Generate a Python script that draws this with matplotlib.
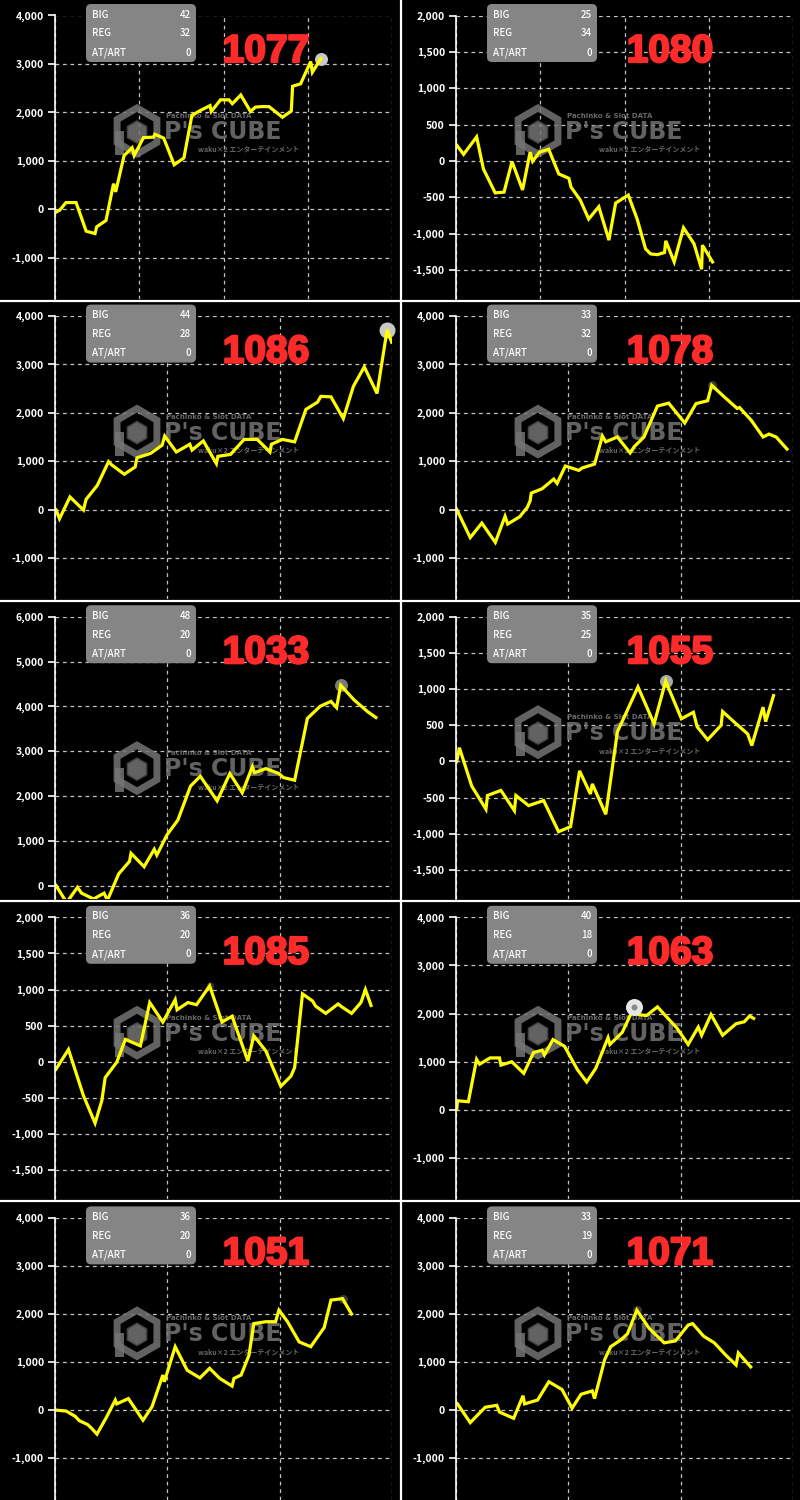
import numpy as np
import matplotlib
matplotlib.use("Agg")
import matplotlib.pyplot as plt
import matplotlib.patheffects as pe
from matplotlib.patches import FancyBboxPatch, RegularPolygon, Rectangle
from matplotlib.transforms import IdentityTransform
from matplotlib.ticker import FuncFormatter, MultipleLocator

# ---------------- data ----------------
machines = ["1077", "1080", "1086", "1078", "1033", "1055", "1085", "1063", "1051", "1071"]
big_counts = [42, 25, 44, 33, 48, 35, 36, 40, 36, 33]
reg_counts = [32, 34, 28, 32, 20, 25, 20, 18, 20, 19]
art_counts = [0, 0, 0, 0, 0, 0, 0, 0, 0, 0]

g_1077 = [0, 120, 260, 500, 740, 950, 990, 1210, 1390, 1440, 1640, 1830, 1880, 2100, 2340, 2370, 2580, 2830, 3060, 3250,
          3450, 3680, 3710, 3930, 4130, 4210, 4410, 4640, 4760, 4920, 5080, 5400, 5610, 5640, 5830, 6070, 6110, 6310]
d_1077 = [-70, -10, 140, 140, -450, -500, -360, -230, 530, 360, 1110, 1270, 1110, 1480, 1490, 1550, 1470, 920, 1060, 1940,
          2040, 2140, 2020, 2260, 2260, 2180, 2360, 2020, 2110, 2120, 2120, 1900, 2030, 2540, 2590, 3050, 2830, 3110]

g_1080 = [0, 180, 490, 650, 930, 1140, 1330, 1580, 1760, 1820, 1980, 2200, 2440, 2680, 2730, 2950, 3150, 3390, 3630, 3790,
          4090, 4300, 4500, 4620, 4780, 4950, 4980, 5180, 5400, 5650, 5830, 5850, 6090]
d_1080 = [230, 90, 330, -110, -440, -430, -10, -400, 120, -5, 120, 160, -180, -240, -360, -540, -800, -630, -1090, -580,
          -470, -800, -1210, -1280, -1290, -1260, -1100, -1390, -920, -1140, -1490, -1160, -1390]

g_1086 = [30, 120, 400, 760, 830, 1130, 1430, 1520, 1850, 2140, 2190, 2550, 2860, 2930, 3240, 3600, 3660, 3960, 4310, 4350,
          4690, 5050, 5400, 5740, 5780, 6070, 6400, 6700, 7010, 7100, 7370, 7700, 7970, 8260, 8600, 8870, 8990]
d_1086 = [-10, -190, 260, -10, 210, 500, 990, 920, 730, 880, 1070, 1160, 1330, 1520, 1190, 1350, 1230, 1420, 950, 1100,
          1140, 1450, 1450, 1190, 1350, 1450, 1400, 2070, 2220, 2340, 2330, 1880, 2550, 2950, 2400, 3720, 3460]

g_1078 = [20, 380, 690, 1050, 1310, 1380, 1700, 1900, 1980, 2010, 2300, 2610, 2700, 2920, 3280, 3370, 3700, 3910, 4000, 4310,
          4650, 4760, 5020, 5380, 5680, 6110, 6410, 6720, 6830, 7120, 7510, 7570, 7880, 8200, 8360, 8550, 8840]
d_1078 = [0, -580, -280, -680, -140, -300, -150, 40, 180, 340, 430, 630, 540, 900, 810, 860, 940, 1520, 1400, 1500,
          1170, 1300, 1500, 2140, 2200, 1790, 2190, 2250, 2570, 2360, 2090, 2110, 1850, 1500, 1560, 1500, 1250]

g_1033 = [30, 310, 600, 710, 1030, 1310, 1400, 1700, 1990, 2030, 2380, 2650, 2720, 2990, 3280, 3620, 3880, 4330, 4670, 5000,
          5270, 5330, 5630, 5980, 6100, 6400, 6740, 7080, 7370, 7520, 7630, 7990, 8350, 8570]
d_1033 = [0, -380, -40, -170, -300, -170, -330, 260, 540, 720, 420, 810, 680, 1130, 1460, 2220, 2440, 1890, 2500, 2070,
          2650, 2520, 2610, 2500, 2410, 2350, 3730, 4000, 4110, 3970, 4470, 4140, 3880, 3750]

g_1055 = [20, 90, 420, 800, 840, 1200, 1560, 1600, 1940, 2340, 2740, 3060, 3300, 3590, 3640, 4000, 4310, 4560, 4860, 5290,
          5600, 6020, 6340, 6440, 6720, 7080, 7120, 7440, 7790, 7900, 8200, 8270, 8480]
d_1055 = [0, 190, -340, -660, -470, -400, -680, -470, -610, -540, -970, -900, -130, -450, -310, -730, 410, 690, 1030, 520,
          1110, 590, 680, 480, 300, 500, 690, 540, 380, 220, 750, 550, 910]

g_1085 = [30, 360, 760, 1070, 1250, 1340, 1650, 1880, 2280, 2530, 2880, 3210, 3260, 3550, 3780, 4130, 4460, 4730, 5150, 5310,
          5630, 6030, 6300, 6400, 6610, 6880, 6960, 7230, 7560, 7660, 7920, 8170, 8290, 8440]
d_1085 = [-100, 170, -470, -850, -540, -220, -5, 310, 220, 820, 550, 860, 720, 820, 790, 1050, 550, 630, 10, 360,
          150, -340, -200, -80, 940, 840, 770, 670, 800, 760, 670, 820, 1000, 780]

g_1063 = [20, 40, 330, 550, 630, 910, 1160, 1200, 1490, 1810, 2070, 2300, 2360, 2590, 2900, 3240, 3490, 3730, 4060, 4110,
          4440, 4760, 4860, 5090, 5380, 5650, 5900, 6200, 6470, 6560, 6810, 7120, 7480, 7700, 7840, 7950]
d_1063 = [10, 190, 170, 1050, 950, 1080, 1080, 930, 1000, 760, 1190, 1240, 1140, 1460, 1320, 840, 580, 860, 1500, 1360,
          1610, 2140, 1980, 1960, 2140, 1910, 1700, 1360, 1720, 1550, 1980, 1550, 1790, 1830, 1950, 1900]

g_1051 = [30, 300, 540, 650, 870, 980, 1120, 1380, 1610, 1650, 1960, 2350, 2590, 2880, 2920, 3210, 3530, 3870, 4130, 4400,
          4730, 4780, 4970, 5180, 5310, 5630, 5890, 5980, 6210, 6520, 6830, 7190, 7370, 7680, 7920]
d_1051 = [0, -20, -130, -220, -300, -380, -500, -140, 210, 130, 240, -210, 70, 730, 590, 1320, 830, 670, 870, 660,
          500, 660, 730, 1140, 1800, 1840, 1840, 2080, 1840, 1420, 1320, 1720, 2290, 2320, 2000]

g_1071 = [40, 380, 780, 1090, 1160, 1540, 1790, 1830, 2180, 2480, 2830, 3100, 3340, 3640, 3700, 3970, 4130, 4400, 4580, 4830,
          5160, 5560, 5860, 6200, 6320, 6610, 6900, 7210, 7480, 7540, 7870]
d_1071 = [130, -260, 60, 100, -40, -170, 300, 130, 210, 590, 430, 40, 330, 400, 240, 1050, 1320, 1460, 1590, 2080,
          1700, 1400, 1440, 1770, 1800, 1540, 1400, 1140, 940, 1190, 900]

games = [g_1077, g_1080, g_1086, g_1078, g_1033, g_1055, g_1085, g_1063, g_1051, g_1071]
diffs = [d_1077, d_1080, d_1086, d_1078, d_1033, d_1055, d_1085, d_1063, d_1051, d_1071]

# axis ranges
y_top = [4000, 2000, 4000, 4000, 6000, 2000, 2000, 4000, 4000, 4000]
y_bottom = [-1850, -1900, -1850, -1850, -300, -1900, -1900, -1850, -1870, -1870]
y_step = [1000, 500, 1000, 1000, 1000, 500, 500, 1000, 1000, 1000]
x_max = [8000, 8000, 9000, 9000, 9000, 9000, 9000, 9000, 9000, 9000]
x_step = [2000, 2000, 3000, 3000, 3000, 3000, 3000, 3000, 3000, 3000]

# ---------------- style ----------------
W, H = 800, 1500
BG = "black"
LINE = "#ffff00"
GRID = "#d8d8d8"
RED = "#ff2b2b"
BOX = "#858585"
WM = "#747474"
JP = ["Noto Sans CJK JP", "DejaVu Sans"]

# max-point marker style per panel: (face, diameter px, on top)
marker_style = [("#c8c8c8", 13, False), None, ("#c8c8c8", 16, False), ("#3a3a3a", 9, False),
                ("#7a7a7a", 13, False), ("#a8a8a8", 13, False), ("#2e2e2e", 8, False),
                ("#e6e6e6", 17, True), ("#3a3a3a", 9, False), ("#3a3a3a", 9, False)]
wm_shift = [0, 0, 0, 0, 36, 0, 0, 0, 0, 0]

fig = plt.figure(figsize=(W / 100, H / 100), dpi=100, facecolor=BG)
ident = IdentityTransform()


def P(x, y):
    """panel pixel (from top-left) -> display coords"""
    return x, H - y


for i in range(len(machines)):
    r, c = divmod(i, 2)
    px0 = c * 401
    py0 = r * 300 + 0.6 * r
    left = px0 + 55
    right = px0 + 392
    top = py0 + 15.5
    bottom = (r + 1) * 300 - 1 if r < 4 else H
    ax = fig.add_axes([left / W, 1 - bottom / H, (right - left) / W, (bottom - top) / H])
    ax.set_facecolor(BG)
    ax.set_xlim(0, x_max[i])
    ax.set_ylim(y_bottom[i], y_top[i])
    ax.xaxis.set_major_locator(MultipleLocator(x_step[i]))
    yt = np.arange(-1500 if y_step[i] == 500 else (-1000 if y_bottom[i] < -1000 else 0), y_top[i] + 1, y_step[i])
    ax.set_yticks(yt)
    ax.yaxis.set_major_formatter(FuncFormatter(lambda v, pos: f"{int(v):,}"))
    ax.tick_params(axis="x", bottom=False, labelbottom=False)
    ax.tick_params(axis="y", colors="white", length=5, width=1.2, pad=3, labelsize=7.5)
    for lab in ax.get_yticklabels():
        lab.set_fontfamily(JP)
        lab.set_fontweight("bold")
        lab.set_color("white")
    for s in ["top", "right", "bottom"]:
        ax.spines[s].set_visible(False)
    ax.spines["left"].set_color("white")
    ax.spines["left"].set_linewidth(1.2)
    ax.grid(True, color=GRID, linestyle=(0, (3, 3)), linewidth=0.9, alpha=0.9)
    ax.set_axisbelow(True)

    # watermark (between grid and line)
    wy = py0 + wm_shift[i]
    hx, hy = P(px0 + 137, wy + 131)
    ax.add_patch(RegularPolygon((hx, hy), 6, radius=23, facecolor="none", edgecolor=WM,
                                linewidth=5, transform=ident, clip_on=False, zorder=1, alpha=0.85))
    ax.add_patch(RegularPolygon((hx, hy - 1), 6, radius=11, facecolor=WM, edgecolor="#4a4a4a",
                                linewidth=1.2, transform=ident, clip_on=False, zorder=1, alpha=0.85))
    ax.add_patch(Rectangle(P(px0 + 115, wy + 155), 9, 24, facecolor=WM, edgecolor="none",
                           transform=ident, clip_on=False, zorder=1, alpha=0.85))
    ax.text(*P(px0 + 166, wy + 118), "Pachinko & Slot DATA", transform=ident, fontsize=5,
            color=WM, fontweight="bold", ha="left", va="baseline", zorder=1, alpha=0.9)
    ax.text(*P(px0 + 164, wy + 139), "P's CUBE", transform=ident, fontsize=17,
            color=WM, fontweight="bold", ha="left", va="baseline", zorder=1, alpha=0.85,
            family="DejaVu Sans")
    ax.text(*P(px0 + 198, wy + 152), "waku×2 エンターテインメント", transform=ident, fontsize=5,
            color=WM, fontweight="bold", ha="left", va="baseline", zorder=1, alpha=0.9, family=JP)

    # data line
    xs = np.array(games[i])
    ys = np.array(diffs[i])
    ms = marker_style[i]
    k = int(np.argmax(ys))
    if ms is not None:
        face, dia, on_top = ms
        ax.plot([xs[k]], [ys[k]], marker="o", markersize=dia * 0.72, color=face,
                markeredgewidth=0, zorder=4 if on_top else 1.5, clip_on=False)
        if on_top:
            ax.plot([xs[k]], [ys[k]], marker="o", markersize=6 * 0.72, color="#8a8a8a",
                    markeredgewidth=0, zorder=4.1, clip_on=False)
    ax.plot(xs, ys, color=LINE, linewidth=2.3, solid_joinstyle="miter", zorder=2)

    # info box
    ax.add_patch(FancyBboxPatch(P(px0 + 86, py0 + 62), 110, 58,
                                boxstyle="round,pad=0,rounding_size=5", facecolor=BOX,
                                edgecolor="none", transform=ident, clip_on=False, zorder=5))
    for j, (lab, val) in enumerate(zip(["BIG", "REG", "AT/ART"],
                                       [big_counts[i], reg_counts[i], art_counts[i]])):
        yy = py0 + 14.5 + j * 19
        ax.text(*P(px0 + 92, yy), lab, transform=ident, fontsize=7, color="white",
                ha="left", va="center", zorder=6, family=JP, fontweight="medium")
        ax.text(*P(px0 + 191, yy), str(val), transform=ident, fontsize=7, color="white",
                ha="right", va="center", zorder=6, family=JP, fontweight="medium")

    # big red machine number
    ax.text(*P(px0 + 266 + 3 * c, py0 + 62), machines[i], transform=ident, fontsize=28,
            color=RED, fontweight="bold", ha="center", va="baseline", zorder=6,
            family="Liberation Sans",
            path_effects=[pe.withStroke(linewidth=1.6, foreground=RED)])

# white separators
fig.add_artist(plt.Line2D([400.5 / W, 400.5 / W], [0, 1], color="white", linewidth=1.6,
                          transform=fig.transFigure))
for yy in [300, 600, 900, 1200]:
    fig.add_artist(plt.Line2D([0, 1], [1 - (yy + 0.5) / H] * 2, color="white", linewidth=1.6,
                              transform=fig.transFigure))

fig.savefig("out.png", dpi=100, facecolor=BG)
